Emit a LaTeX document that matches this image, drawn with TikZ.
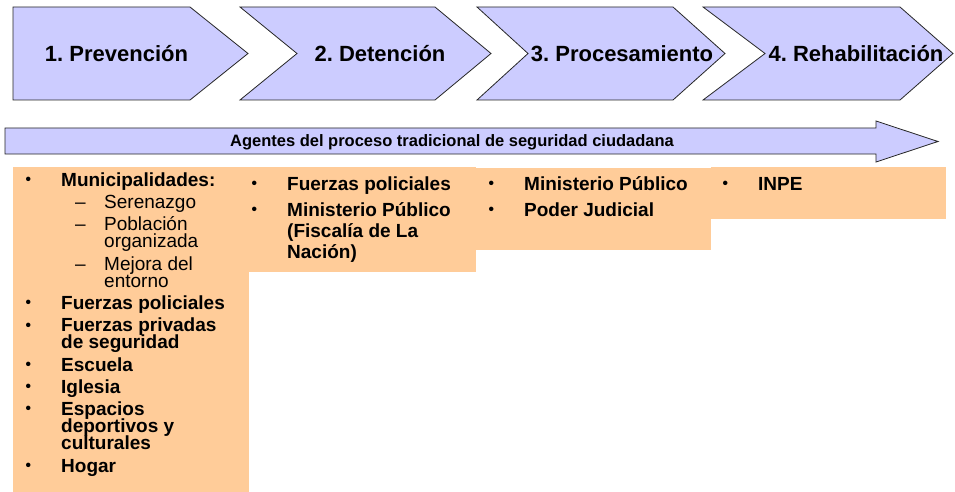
\documentclass[tikz,border=0pt]{standalone}
\usepackage{fontspec}
\setmainfont{Liberation Sans}
\usetikzlibrary{positioning}
\definecolor{chevfill}{HTML}{CCCCFF}
\definecolor{agentfill}{HTML}{FFCC99}
\newcommand{\tightlines}{\setlength{\lineskiplimit}{-20pt}\setlength{\lineskip}{0pt}}
\tikzset{%
	chev/.style      = {draw=black!85, line width=0.8pt, fill=chevfill},
	chevlabel/.style = {anchor=base, inner sep=0pt,
		font=\fontsize{22}{26}\selectfont\bfseries},
	agentbox/.style  = {fill=agentfill, draw=none},
	agentlist/.style = {anchor=north west, inner sep=0pt, align=left,
		font={\fontsize{19}{#1}\selectfont\bfseries\tightlines}} % list in a box
}
\frenchspacing
\newcommand{\firstln}{\rule{0pt}{18pt}}
\newcommand{\smallbul}{\raisebox{1.5pt}{\fontsize{15.5}{15.5}\selectfont\textbullet}}
\newcommand{\itm}[1]{\makebox[36pt][l]{\hspace*{0.5pt}\smallbul}#1}
\newcommand{\cnt}[1]{\hspace*{36pt}#1}
\newcommand{\subagent}[1]{\hspace*{50pt}\makebox[29pt][l]{\mdseries --}{\mdseries #1}}
\newcommand{\subcnt}[1]{\hspace*{79pt}{\mdseries #1}}

\begin{document}
\begin{tikzpicture}[x=1pt,y=-1pt]
	\useasboundingbox (0,0) rectangle (955,492);

	% stages
	\draw[chev] (13,7) -- (190,7) -- (248,53.5) -- (190,100) -- (13,100) -- cycle;
	\draw[chev] (240,7) -- (435,7) -- (491,53.5) -- (435,100) -- (240,100) -- (297,53.5) -- cycle;
	\draw[chev] (477,7) -- (673,7) -- (725,53.5) -- (673,100) -- (477,100) -- (528,53.5) -- cycle;
	\draw[chev] (703,7) -- (900,7) -- (953,53.5) -- (900,100) -- (703,100) -- (765,53.5) -- cycle;
	\node[chevlabel] (prev) at (116.5,62) {1. Prevención};
	\node[chevlabel] (deten) at (380,62) {2. Detención};
	\node[chevlabel] (proc) at (622,62) {3. Procesamiento};
	\node[chevlabel] (rehab) at (856,62) {4. Rehabilitación};

	% agents arrow
	\draw[chev] (5,128) -- (876,128) -- (876,121) -- (938,141.5) -- (876,162)
		-- (876,154) -- (5,154) -- cycle;
	\node[anchor=base, inner sep=0pt, font=\fontsize{16.5}{20}\selectfont\bfseries]
		(agentes) at (452,146.5) {Agentes del proceso tradicional de seguridad ciudadana};

	% boxes
	\fill[agentbox] (13,167) rectangle (249,492);
	\fill[agentbox] (249,167) rectangle (476,272);
	\fill[agentbox] (476,168) rectangle (711,250);
	\fill[agentbox] (711,167) rectangle (946,219);

	\node[agentlist=17.2] (listprev) at (25,168) {%
		\firstln\itm{Municipalidades:}\\[5pt]
		\subagent{Serenazgo}\\[5pt]
		\subagent{Población}\\
		\subcnt{organizada}\\[5pt]
		\subagent{Mejora del}\\
		\subcnt{entorno}\\[5pt]
		\itm{Fuerzas policiales}\\[5pt]
		\itm{Fuerzas privadas}\\
		\cnt{de seguridad}\\[5pt]
		\itm{Escuela}\\[5pt]
		\itm{Iglesia}\\[5pt]
		\itm{Espacios}\\
		\cnt{deportivos y}\\
		\cnt{culturales}\\[5pt]
		\itm{Hogar}};
	\node[agentlist=21] (listdeten) at (251,172) {%
		\firstln\itm{Fuerzas policiales}\\[5pt]
		\itm{Ministerio Público}\\
		\cnt{(Fiscalía de La}\\
		\cnt{Nación)}};
	\node[agentlist=21] (listproc) at (488,172) {%
		\firstln\itm{Ministerio Público}\\[5pt]
		\itm{Poder Judicial}};
	\node[agentlist=21] (listrehab) at (722,172) {%
		\firstln\itm{INPE}};
\end{tikzpicture}
\end{document}
